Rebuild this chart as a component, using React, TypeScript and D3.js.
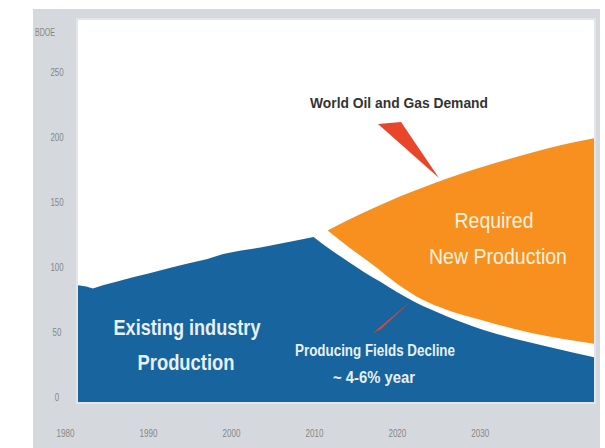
import React from "react";
import * as d3 from "d3";

const W = 605;
const H = 448;

// Existing industry production (blue), BDOE — rising history up to the peak
const riseYears = [1981.5, 1982.5, 1983.3, 1984.5, 1986, 1988, 1990, 1991.5, 1993, 1995, 1997, 1999, 2001, 2003.5, 2005.5, 2007.5, 2009.9];
const riseValues = [86, 85, 83.5, 86, 88.5, 92, 95, 97.5, 100, 103, 106, 110, 112.5, 115, 117.5, 120, 123];
// Producing fields decline after the peak
const declineYears = [2009.9, 2012, 2014, 2016, 2018, 2020, 2022.1, 2026, 2030.2, 2034, 2038.3, 2043.7];
const declineValues = [123, 113, 104.5, 96, 88.5, 80.5, 73, 62, 52, 45, 38.5, 30.5];

// Required new production (orange): between lower edge and world demand
const orangeYears = [2011.6, 2014, 2017, 2020, 2023, 2026, 2030, 2034, 2038.3, 2043.7];
const orangeLow = [128, 116, 102, 87, 75, 67, 59.5, 52.5, 46.5, 41];
const demandYears = [2011.6, 2014, 2017, 2020, 2023, 2026, 2030, 2034, 2038.3, 2043.7];
const demandHigh = [128, 136, 145, 153.5, 161, 168, 176.5, 184, 191.5, 199];

const yTicks = [0, 50, 100, 150, 200, 250];
const xTicks = [1980, 1990, 2000, 2010, 2020, 2030];

const COND = "'Liberation Sans Narrow', 'Arial Narrow', 'Liberation Sans', Arial, sans-serif";

type P = { yr: number; v: number };

export default function App() {
  const x = d3.scaleLinear().domain([1981.5, 2043.7]).range([78, 594]);
  const y = d3.scaleLinear().domain([0, 250]).range([397, 72]);
  const base = 402;

  const rise: P[] = riseYears.map((yr, i) => ({ yr, v: riseValues[i] }));
  const decline: P[] = declineYears.map((yr, i) => ({ yr, v: declineValues[i] }));

  const riseLine = d3.line<P>().x((d) => x(d.yr)).y((d) => y(d.v)).curve(d3.curveLinear);
  const smoothLine = d3.line<P>().x((d) => x(d.yr)).y((d) => y(d.v)).curve(d3.curveMonotoneX);

  const bluePath =
    (riseLine(rise) || "") +
    (smoothLine(decline) || "").replace(/^M/, "L") +
    `L${x(declineYears[declineYears.length - 1])},${base}L${x(riseYears[0])},${base}Z`;

  const lowPts: P[] = orangeYears.map((yr, i) => ({ yr, v: orangeLow[i] }));
  const highPts: P[] = demandYears.map((yr, i) => ({ yr, v: demandHigh[i] }));
  const orangePath =
    (smoothLine(highPts) || "") +
    (smoothLine(lowPts.slice().reverse()) || "").replace(/^M/, "L") +
    "Z";

  const tickFont = { fontFamily: COND, fontSize: 11, fill: "#858585", textAnchor: "middle" as const };

  return (
    <svg width={W} height={H} style={{ position: "absolute", left: 0, top: 0 }}>
      <rect x={0} y={0} width={W} height={H} fill="#ffffff" />
      <rect x={33} y={9} width={567} height={439} fill="#d5d9dd" />
      <rect x={76} y={18} width={520} height={386} fill="#e3e5e8" />
      <rect x={78} y={20} width={516} height={382} fill="#ffffff" />

      <path d={bluePath} fill="#17649e" />
      <path d={orangePath} fill="#f7901e" />

      {/* pointers */}
      <polygon points="378,124 401,122 439,178" fill="#e8452b" />
      <polygon points="373,333 381,329 411,301" fill="#e8452b" />

      {/* axes labels */}
      <text x={45} y={36} {...tickFont} fontSize={10} textLength={20} lengthAdjust="spacingAndGlyphs">BDOE</text>
      {yTicks.map((t) => (
        <text key={t} x={57} y={y(t) + 4} {...tickFont} textLength={String(t).length * 4.4} lengthAdjust="spacingAndGlyphs">
          {t}
        </text>
      ))}
      {xTicks.map((t) => (
        <text key={t} x={x(t)} y={437} {...tickFont} textLength={18} lengthAdjust="spacingAndGlyphs">
          {t}
        </text>
      ))}

      {/* annotations */}
      <text x={399} y={108} fontFamily={COND} fontWeight="bold" fontSize={14} fill="#333" textAnchor="middle"
        textLength={178} lengthAdjust="spacingAndGlyphs">World Oil and Gas Demand</text>

      <text x={494} y={228} fontFamily={COND} fontSize={22} fill="#fdf1df" textAnchor="middle"
        textLength={79} lengthAdjust="spacingAndGlyphs">Required</text>
      <text x={498} y={264} fontFamily={COND} fontSize={22} fill="#fdf1df" textAnchor="middle"
        textLength={138} lengthAdjust="spacingAndGlyphs">New Production</text>

      <text x={187} y={335} fontFamily={COND} fontWeight="bold" fontSize={22} fill="#e8f0f7" textAnchor="middle"
        textLength={147} lengthAdjust="spacingAndGlyphs">Existing industry</text>
      <text x={186} y={370} fontFamily={COND} fontWeight="bold" fontSize={22} fill="#e8f0f7" textAnchor="middle"
        textLength={97} lengthAdjust="spacingAndGlyphs">Production</text>

      <text x={375} y={356} fontFamily={COND} fontWeight="bold" fontSize={16} fill="#e8f0f7" textAnchor="middle"
        textLength={160} lengthAdjust="spacingAndGlyphs">Producing Fields Decline</text>
      <text x={374} y={383} fontFamily={COND} fontWeight="bold" fontSize={16} fill="#e8f0f7" textAnchor="middle"
        textLength={82} lengthAdjust="spacingAndGlyphs">~ 4-6% year</text>
    </svg>
  );
}
